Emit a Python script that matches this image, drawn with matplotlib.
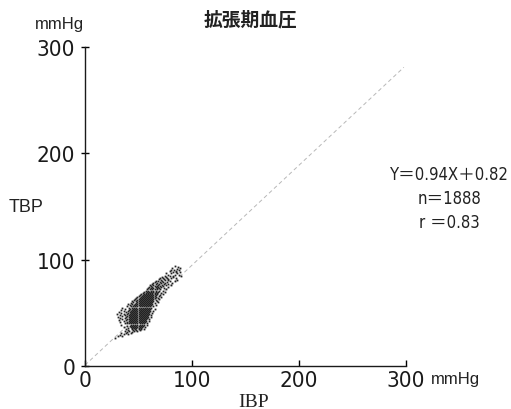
import matplotlib
matplotlib.use("Agg")
import matplotlib.pyplot as plt
from matplotlib import font_manager as fm
import numpy as np

# ---------------- data ----------------
title = "拡張期血圧"
x_label = "IBP"
y_label = "TBP"
unit = "mmHg"
x_ticks = [0, 100, 200, 300]
y_ticks = [0, 100, 200, 300]
x_tick_labels = ["0", "100", "200", "300"]
y_tick_labels = ["0", "100", "200", "300"]
fit_slope = 0.94
fit_intercept = 0.82
fit_x_range = [0, 298]
stats_text = ["Y＝0.94X＋0.82", "n＝1888", "r ＝0.83"]

# scatter read row by row: TBP value -> IBP values seen at that TBP
tbp_levels = [26, 28, 29, 30, 31, 32, 33, 34, 35, 36, 37, 38, 39, 40, 41, 42, 43,
              44, 45, 46, 47, 48, 49, 50, 51, 52, 53, 54, 55, 56, 57, 58, 59, 60,
              61, 62, 63, 64, 65, 66, 67, 68, 69, 70, 71, 72, 73, 74, 75, 76, 77,
              78, 79, 80, 81, 82, 83, 84, 85, 86, 87, 88, 89, 90, 91, 92, 93, 94]
ibp_at_level = [
    [28],
    [31, 35],
    [33],
    [36, 40],
    [34, 38, 43],
    [39, 44],
    [37, 41, 46, 49],
    [40, 45, 48, 51],
    [38, 44, 47, 50, 52, 55],
    [40, 44, 46, 48, 50, 52],
    [36, 43, 45, 47, 49, 51, 53, 56],
    [39, 42, 44, 46, 48, 50, 52, 54],
    [34, 43, 45, 47, 49, 51, 53, 55, 58],
    [37, 39, 41, 43, 45, 47, 49, 51, 53, 55, 58],
    [33, 39, 42, 44, 46, 48, 50, 52, 54, 56],
    [36, 41, 43, 45, 47, 49, 51, 53, 55, 57, 60],
    [32, 38, 42, 44, 46, 48, 50, 52, 54, 56],
    [35, 39, 41, 43, 45, 47, 49, 51, 53, 55, 57, 60],
    [33, 37, 42, 44, 46, 48, 50, 52, 54, 56, 58],
    [31, 38, 41, 43, 45, 47, 49, 51, 53, 55, 57, 59, 62],
    [35, 39, 42, 44, 46, 48, 50, 52, 54, 56, 58],
    [33, 37, 41, 43, 45, 47, 49, 51, 53, 55, 57, 59, 62],
    [30, 36, 39, 42, 44, 46, 48, 50, 52, 54, 56, 58, 60],
    [34, 40, 43, 45, 47, 49, 51, 53, 55, 57, 59, 63],
    [32, 38, 42, 44, 46, 48, 50, 52, 54, 56, 58, 60],
    [36, 40, 43, 45, 47, 49, 51, 53, 55, 57, 59, 61, 64],
    [34, 41, 44, 46, 48, 50, 52, 54, 56, 58, 60],
    [37, 42, 45, 47, 49, 51, 53, 55, 57, 59, 61, 65],
    [35, 41, 44, 46, 48, 50, 52, 54, 56, 58, 60, 62],
    [39, 43, 45, 47, 49, 51, 53, 55, 57, 59, 61, 64],
    [42, 46, 48, 50, 52, 54, 56, 58, 60, 62, 66],
    [40, 44, 47, 49, 51, 53, 55, 57, 59, 61, 63],
    [43, 48, 50, 52, 54, 56, 58, 60, 62, 65],
    [45, 49, 51, 53, 55, 57, 59, 61, 63, 68],
    [44, 48, 50, 52, 54, 56, 58, 60, 62, 64, 67],
    [46, 49, 51, 53, 55, 57, 59, 61, 63, 66],
    [47, 50, 52, 54, 56, 58, 60, 62, 64, 69],
    [48, 51, 53, 55, 57, 59, 61, 63, 65, 68],
    [49, 52, 54, 56, 58, 60, 62, 64, 66, 71],
    [50, 53, 55, 57, 59, 61, 63, 65, 69],
    [51, 54, 56, 58, 60, 62, 64, 66, 70],
    [52, 55, 57, 59, 61, 63, 65, 67, 73],
    [54, 57, 59, 61, 63, 65, 67, 71],
    [55, 58, 60, 62, 64, 66, 68, 75],
    [57, 59, 62, 64, 66, 69, 73],
    [58, 61, 63, 65, 67, 70, 76],
    [59, 62, 64, 67, 69, 74],
    [60, 63, 66, 68, 71, 78],
    [62, 65, 67, 70, 73],
    [61, 64, 68, 72, 76, 80],
    [63, 66, 69, 74, 78],
    [64, 67, 71, 75, 81],
    [65, 70, 73, 77],
    [66, 68, 72, 79, 84],
    [71, 75, 78, 86],
    [69, 74, 78],
    [70, 73, 77, 80, 85],
    [72, 76, 82],
    [75, 79, 82, 90],
    [78, 84, 88],
    [76, 80, 86],
    [82, 85, 89],
    [79, 85],
    [80, 83, 88],
    [86],
    [81, 89],
    [87],
    [84],
]


# ---------------- fonts ----------------
def pick_condensed():
    prefs = ["Liberation Sans Narrow", "DejaVu Sans", "Noto Sans", "Open Sans",
             "Roboto", "Liberation Sans"]
    cands = []
    for f in fm.fontManager.ttflist:
        st = str(f.stretch).lower()
        nm = f.name.lower()
        if not ("condensed" in st or "narrow" in nm or "condensed" in nm):
            continue
        if f.style != "normal":
            continue
        w = f.weight if isinstance(f.weight, int) else (700 if "bold" in str(f.weight) else 400)
        if w > 500:
            continue
        rank = prefs.index(f.name) if f.name in prefs else len(prefs)
        cands.append((rank, f.name, f.stretch))
    if cands:
        cands.sort(key=lambda c: c[0])
        return cands[0][1], cands[0][2], True
    return "Liberation Sans", "normal", False


COND_FAMILY, COND_STRETCH, HAVE_COND = pick_condensed()
TICK_SIZE = 16 if HAVE_COND else 14
STAT_SIZE = 12 if HAVE_COND else 11

# ---------------- figure ----------------
W, H = 511, 410
fig = plt.figure(figsize=(W / 100, H / 100), dpi=100)
fig.patch.set_facecolor("white")


def fx(px):
    return px / W


def fy(py):
    return 1 - py / H


ax_left, ax_right, ax_top, ax_bottom = 85, 406, 48, 367
ax = fig.add_axes([fx(ax_left), fy(ax_bottom), fx(ax_right - ax_left), (ax_bottom - ax_top) / H])
ax.set_xlim(0, 300)
ax.set_ylim(0, 300)
ax.patch.set_alpha(0)

for s in ["top", "right"]:
    ax.spines[s].set_visible(False)
for s in ["left", "bottom"]:
    ax.spines[s].set_linewidth(1.0)
    ax.spines[s].set_color("#1a1a1a")

tick_font = dict(family=[COND_FAMILY, "DejaVu Sans"], stretch=COND_STRETCH,
                 fontsize=TICK_SIZE, color="#1a1a1a")
ax.set_xticks(x_ticks)
ax.set_xticklabels(x_tick_labels, **tick_font)
ax.set_yticks(y_ticks)
ax.set_yticklabels(y_tick_labels, **tick_font)
ax.tick_params(axis="x", direction="in", length=4, width=1.0, pad=3)
ax.tick_params(axis="y", direction="inout", length=6, width=1.0, pad=4)

# regression line
xs = np.array(fit_x_range, dtype=float)
ax.plot(xs, fit_slope * xs + fit_intercept, color="#b8b8b8", lw=0.7,
        linestyle=(0, (4, 3)), zorder=1)

# scatter
ibp = []
tbp = []
for level, row in zip(tbp_levels, ibp_at_level):
    for v in row:
        ibp.append(v)
        tbp.append(level)
ax.plot(ibp, tbp, linestyle="none", marker="s", markersize=1.3,
        markeredgewidth=0, color="#222222", zorder=2, clip_on=False)

# texts
fig.text(fx(250), fy(20), title, family=["Noto Sans CJK JP"], fontsize=13.5,
         weight="bold", ha="center", va="center", color="#222222")
fig.text(fx(59), fy(25), unit, family=["Liberation Sans", "DejaVu Sans"], fontsize=12,
         ha="center", va="center", color="#222222")
fig.text(fx(455), fy(380), unit, family=["Liberation Sans", "DejaVu Sans"], fontsize=12,
         ha="center", va="center", color="#222222")
fig.text(fx(26), fy(208), y_label, family=["Liberation Sans", "DejaVu Sans"], fontsize=13,
         ha="center", va="center", color="#222222")
fig.text(fx(254), fy(407), x_label, family=["Liberation Serif", "DejaVu Serif"], fontsize=14,
         ha="center", va="baseline", color="#222222")

stat_font = dict(family=[COND_FAMILY, "Noto Sans CJK JP", "DejaVu Sans"],
                 stretch=COND_STRETCH, fontsize=STAT_SIZE, color="#222222", va="center")
fig.text(fx(509), fy(175), stats_text[0], ha="right", **stat_font)
fig.text(fx(418), fy(199), stats_text[1], ha="left", **stat_font)
fig.text(fx(419), fy(223), stats_text[2], ha="left", **stat_font)

fig.savefig("out.png", dpi=100, facecolor="white")
